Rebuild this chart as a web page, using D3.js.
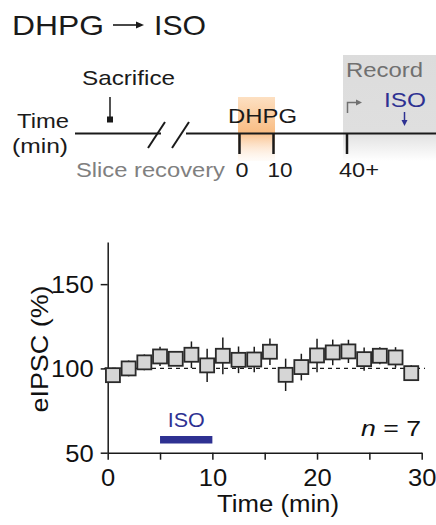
<!DOCTYPE html>
<html><head><meta charset="utf-8">
<script src="https://cdn.jsdelivr.net/npm/d3@7"></script>
<style>body{margin:0;background:#fff}svg{display:block;font-family:"Liberation Sans",Arial,sans-serif}</style>
</head><body>
<svg id="c" width="436" height="525"></svg>
<script>
const times = [0.5,2,3.5,5,6.5,8,9.5,11,12.5,14,15.5,17,18.5,20,21.5,23,24.5,26,27.5,29];
const values = [96.0,100.0,103.6,107.1,105.7,108.1,101.8,107.5,105.1,105.3,109.9,96.2,100.8,107.7,109.5,110.1,105.5,107.5,106.5,97.2];
const errors = [2.5,4.7,4.7,5.7,4.0,7.9,9.9,10.9,7.9,7.6,7.9,9.6,7.9,9.9,7.6,6.9,6.9,5.1,6.1,4.7];
const xTicks = [0,5,10,15,20,25,30];
const xTickLabels = ["0","","10","","20","","30"];
const yTicks = [50,100,150];
const isoPeriod = [5,10];
const schedTicks = ["0","10","40+"];

const svg = d3.select("#c");
const blue = "#2e3192";
const ink = "#1a1a1a";

function T(x, y, str, size, width, opts) {
  opts = opts || {};
  const t = svg.append("text").attr("x", x).attr("y", y).attr("font-size", size)
    .attr("fill", opts.fill || ink).attr("text-anchor", opts.anchor || "start").text(str);
  if (width) t.attr("textLength", width).attr("lengthAdjust", "spacingAndGlyphs");
  if (opts.transform) t.attr("transform", opts.transform);
  return t;
}

// ---------- Title ----------
T(12, 35, "DHPG", 28, 92);
svg.append("line").attr("x1",113).attr("x2",140).attr("y1",25).attr("y2",25).attr("stroke",ink).attr("stroke-width",1.6);
svg.append("path").attr("d","M144,25 L136,21.5 L136,28.5 Z").attr("fill",ink);
T(154, 35, "ISO", 28, 52);

// ---------- Schedule ----------
const defs = svg.append("defs");
const og = defs.append("linearGradient").attr("id","og").attr("x1",0).attr("y1",0).attr("x2",0).attr("y2",1);
og.append("stop").attr("offset","0%").attr("stop-color","#fde0c2");
og.append("stop").attr("offset","55%").attr("stop-color","#f9bd84");
og.append("stop").attr("offset","100%").attr("stop-color","#fde9d6").attr("stop-opacity",0.15);
const gg = defs.append("linearGradient").attr("id","gg").attr("x1",0).attr("y1",0).attr("x2",0).attr("y2",1);
gg.append("stop").attr("offset","0%").attr("stop-color","#dcdcdc");
gg.append("stop").attr("offset","72%").attr("stop-color","#dfdfdf");
gg.append("stop").attr("offset","100%").attr("stop-color","#ffffff");

svg.append("rect").attr("x",343).attr("y",55).attr("width",93).attr("height",106).attr("fill","url(#gg)");
svg.append("rect").attr("x",238).attr("y",97).attr("width",37).attr("height",64).attr("fill","url(#og)");

const lineY = 133.5;
svg.append("line").attr("x1",75).attr("x2",161).attr("y1",lineY).attr("y2",lineY).attr("stroke",ink).attr("stroke-width",2.2);
svg.append("line").attr("x1",186).attr("x2",436).attr("y1",lineY).attr("y2",lineY).attr("stroke",ink).attr("stroke-width",2.2);
[[148,148,165,122],[172,148,189,122]].forEach(s=>{
  svg.append("line").attr("x1",s[0]).attr("y1",s[1]).attr("x2",s[2]).attr("y2",s[3]).attr("stroke",ink).attr("stroke-width",2);
});
T(17, 128, "Time", 21, 52);
T(12, 153, "(min)", 21, 56);

T(82, 85, "Sacrifice", 21, 93);
svg.append("line").attr("x1",110).attr("x2",110).attr("y1",97).attr("y2",119).attr("stroke",ink).attr("stroke-width",1.5);
svg.append("rect").attr("x",107).attr("y",116.5).attr("width",6).attr("height",6).attr("fill",ink);

T(76, 177, "Slice recovery", 21, 149, {fill:"#808080"});
T(228, 123, "DHPG", 21, 69);

const schedX = [239.5,273.5,347];
const labelX = [242,280,359];
const labelW = [13,25,40];
schedX.forEach((x,i)=>{
  svg.append("line").attr("x1",x).attr("x2",x).attr("y1",lineY).attr("y2",154).attr("stroke",ink).attr("stroke-width",2.5);
  T(labelX[i], 177, schedTicks[i], 21, labelW[i], {anchor:"middle"});
});

T(346, 77, "Record", 21, 77, {fill:"#707070"});
svg.append("path").attr("d","M347.5,113 V102.5 H357").attr("fill","none").attr("stroke","#707070").attr("stroke-width",1.5);
svg.append("path").attr("d","M362,102.5 L356,99.5 L356,105.5 Z").attr("fill","#707070");
T(384, 107, "ISO", 21, 42, {fill:blue});
svg.append("line").attr("x1",404.5).attr("x2",404.5).attr("y1",112).attr("y2",121).attr("stroke",blue).attr("stroke-width",1.5);
svg.append("path").attr("d","M404.5,126 L401.5,120 L407.5,120 Z").attr("fill",blue);

// ---------- Plot ----------
const x = d3.scaleLinear().domain([0,30]).range([107.7,421.7]);
const y = d3.scaleLinear().domain([50,175]).range([452.7,242]);

svg.append("line").attr("x1",104).attr("x2",425).attr("y1",y(100)).attr("y2",y(100))
  .attr("stroke",ink).attr("stroke-width",1.2).attr("stroke-dasharray","4,4");

const xAxis = svg.append("g").attr("transform",`translate(0,${y(50)})`)
  .call(d3.axisBottom(x).tickValues(xTicks).tickFormat((d,i)=>xTickLabels[i]).tickSize(7).tickSizeOuter(0).tickPadding(4));
const yAxis = svg.append("g").attr("transform",`translate(${x(0)},0)`)
  .call(d3.axisLeft(y).tickValues(yTicks).tickSize(7).tickSizeOuter(0).tickPadding(7));
[xAxis,yAxis].forEach(a=>{
  a.selectAll("path").attr("stroke",ink).attr("stroke-width",1.5);
  a.selectAll("line").attr("stroke",ink).attr("stroke-width",1.5);
  a.selectAll("text").attr("font-size",23.5).attr("fill","#111").attr("font-family","Liberation Sans, Arial, sans-serif")
    .attr("textLength", function(){ return this.textContent.length*14.2; }).attr("lengthAdjust","spacingAndGlyphs");
});
xAxis.selectAll("text").attr("dy","0.95em");
yAxis.selectAll("text").attr("dy","0.36em").attr("text-anchor","start")
  .attr("x", function(){ return -14 - this.textContent.length*14.2; });

// error bars
svg.append("g").selectAll("line").data(times).join("line")
  .attr("x1",d=>x(d)).attr("x2",d=>x(d))
  .attr("y1",(d,i)=>y(values[i]+errors[i])).attr("y2",(d,i)=>y(values[i]-errors[i]))
  .attr("stroke",ink).attr("stroke-width",1.5);
// squares
const s = 14;
svg.append("g").selectAll("rect").data(times).join("rect")
  .attr("x",d=>x(d)-s/2).attr("y",(d,i)=>y(values[i])-s/2).attr("width",s).attr("height",s)
  .attr("fill","#d6d6d6").attr("stroke","#2a2a2a").attr("stroke-width",1.8);

// ISO bar
svg.append("rect").attr("x",x(isoPeriod[0])).attr("width",x(isoPeriod[1])-x(isoPeriod[0]))
  .attr("y",436).attr("height",7.5).attr("fill",blue);
T((x(isoPeriod[0])+x(isoPeriod[1]))/2, 427, "ISO", 21, 37, {fill:blue, anchor:"middle"});

const nt = svg.append("text").attr("x",421).attr("y",436).attr("text-anchor","end").attr("font-size",22).attr("fill","#111")
  .attr("textLength",60).attr("lengthAdjust","spacingAndGlyphs");
nt.append("tspan").attr("font-style","italic").text("n");
nt.append("tspan").text(" = 7");

T(278, 511.5, "Time (min)", 23.5, 122, {anchor:"middle", fill:"#111"});
T(0, 0, "eIPSC (%)", 24.5, 127, {anchor:"middle", fill:"#111", transform:"translate(48,349) rotate(-90)"});
</script>
</body></html>
